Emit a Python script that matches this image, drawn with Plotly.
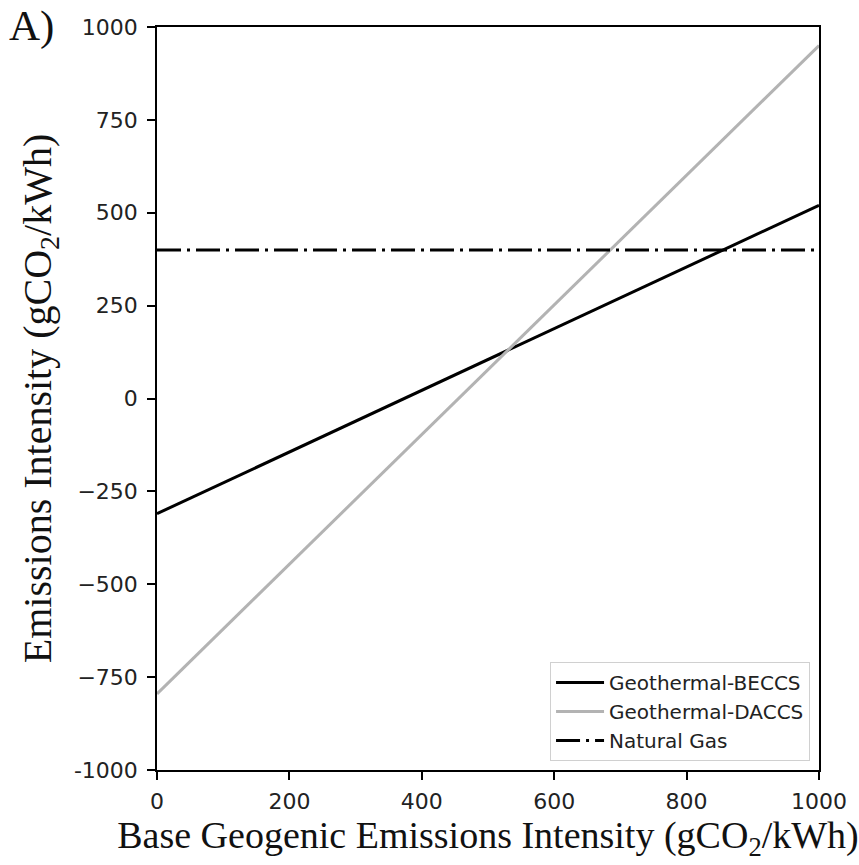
import plotly.graph_objects as go

# Data
x_vals = [0, 1000]
beccs = [-310, 520]
daccs = [-795, 950]
natgas = [400, 400]
y_tickvals = [-1000, -750, -500, -250, 0, 250, 500, 750, 1000]
y_ticktext = ["-1000", "\u2212750", "\u2212500", "\u2212250", "0", "250", "500", "750", "1000"]
x_tickvals = [0, 200, 400, 600, 800, 1000]

fig = go.Figure()
fig.add_trace(go.Scatter(x=x_vals, y=beccs, mode="lines", name="Geothermal-BECCS",
                         line=dict(color="black", width=3)))
fig.add_trace(go.Scatter(x=x_vals, y=daccs, mode="lines", name="Geothermal-DACCS",
                         line=dict(color="#b3b3b3", width=3)))
fig.add_trace(go.Scatter(x=x_vals, y=natgas, mode="lines", name="Natural Gas",
                         line=dict(color="black", width=3, dash="24px,6px,3px,6px")))

W, H = 859, 865
L, R, T, B = 157, 37, 27, 95
pw = W - L - R
ph = H - T - B

fig.update_layout(
    width=W, height=H,
    margin=dict(l=L, r=R, t=T, b=B),
    plot_bgcolor="white", paper_bgcolor="white",
    showlegend=True,
    legend=dict(
        x=(813 - L) / pw, xanchor="right",
        y=(H - B - 761) / ph, yanchor="bottom",
        bgcolor="white", bordercolor="#d0d0d0", borderwidth=1,
        font=dict(family="DejaVu Sans", size=20, color="#222"),
        itemwidth=48,
    ),
    xaxis=dict(
        range=[0, 1000], tickvals=x_tickvals,
        showgrid=False, zeroline=False,
        showline=True, linecolor="black", linewidth=1.5, mirror=True,
        ticks="outside", ticklen=8, tickwidth=1.5, tickcolor="black",
        ticklabelstandoff=3,
        tickfont=dict(family="DejaVu Sans", size=22, color="#222"),
        title=dict(text="Base Geogenic Emissions Intensity (gCO<sub>2</sub>/kWh)",
                   font=dict(family="Liberation Serif", size=38, color="#111"),
                   standoff=8),
    ),
    yaxis=dict(
        range=[-1000, 1000], tickvals=y_tickvals, ticktext=y_ticktext,
        showgrid=False, zeroline=False,
        showline=True, linecolor="black", linewidth=1.5, mirror=True,
        ticks="outside", ticklen=8, tickwidth=1.5, tickcolor="black",
        ticklabelstandoff=5,
        tickfont=dict(family="DejaVu Sans", size=22, color="#222"),
        title=dict(text="Emissions Intensity (gCO<sub>2</sub>/kWh)",
                   font=dict(family="Liberation Serif", size=40, color="#111"),
                   standoff=10),
    ),
)

fig.add_annotation(text="A)", xref="paper", yref="paper",
                   x=-(L - 6) / pw, xanchor="left",
                   y=1 + T / ph, yanchor="top",
                   showarrow=False,
                   font=dict(family="Liberation Serif", size=43, color="#111"))

# remove the default 8px page margin so the figure sits at the window's corner
fig.write_html("out.html", config={"displayModeBar": False},
               post_script="document.body.style.margin='0px';")
